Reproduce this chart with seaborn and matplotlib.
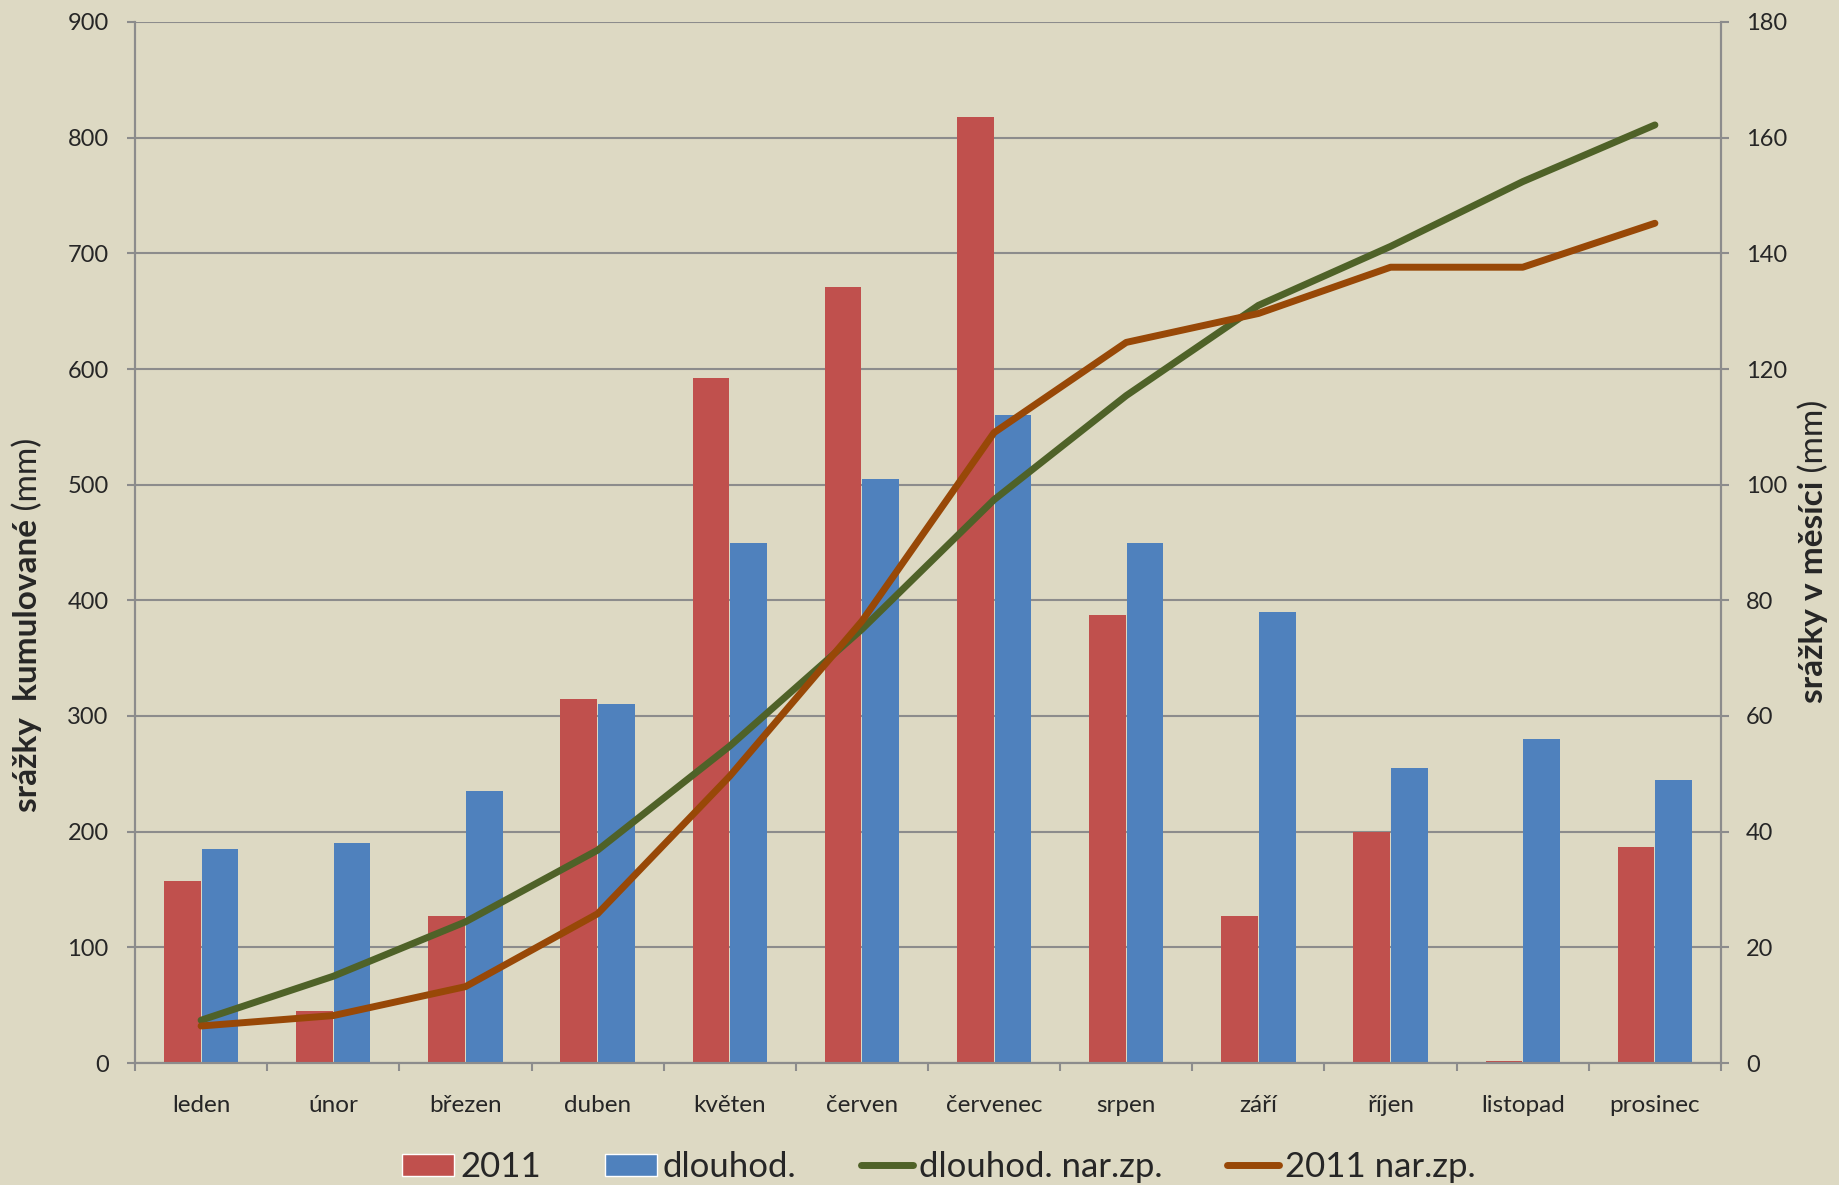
import numpy as np
import pandas as pd
import seaborn as sns
import matplotlib.pyplot as plt
from matplotlib.patches import Patch
from matplotlib.lines import Line2D

# měsíce
mesice = ['leden', 'únor', 'březen', 'duben', 'květen', 'červen',
          'červenec', 'srpen', 'září', 'říjen', 'listopad', 'prosinec']

# měsíční srážky (mm) - pravá osa
srazky_2011 = [31.4, 9, 25.4, 63, 118.4, 134.2, 163.6, 77.4, 25.4, 40, 0.4, 37.4]
srazky_dlouhod = [37, 38, 47, 62, 90, 101, 112, 90, 78, 51, 56, 49]

# kumulované srážky (mm) - levá osa
kum_dlouhod = [37, 75, 122, 184, 274, 375, 487, 577, 655, 706, 762, 811]
kum_2011 = [32, 41, 66, 129, 248, 382, 545, 623, 648, 688, 688, 726]

BG = '#DDD9C3'
GRID = '#8C8C8C'
C_2011 = '#C0504D'
C_DL = '#4F81BD'
C_DL_KUM = '#4F6228'
C_2011_KUM = '#984807'


def main():
    sns.set_style('white')
    plt.rcParams['font.family'] = ['Lato', 'DejaVu Sans']

    fig = plt.figure(figsize=(18.39, 11.85), dpi=100, facecolor=BG)
    ax = fig.add_axes([135 / 1839, 1 - 1063 / 1185, (1721 - 135) / 1839, (1063 - 22) / 1185])
    ax2 = ax.twinx()

    # sloupce (měsíční hodnoty) na pravé ose
    df = pd.DataFrame({
        'mesic': mesice * 2,
        'rada': ['2011'] * 12 + ['dlouhod.'] * 12,
        'mm': srazky_2011 + srazky_dlouhod,
    })
    sns.barplot(data=df, x='mesic', y='mm', hue='rada', order=mesice,
                hue_order=['2011', 'dlouhod.'], palette=[C_2011, C_DL],
                width=0.57, gap=0.03, linewidth=0, saturation=1,
                legend=False, ax=ax2)

    # čáry (kumulované) na levé ose
    idx = np.arange(len(mesice))
    sns.lineplot(x=idx, y=kum_dlouhod, color=C_DL_KUM, linewidth=5,
                 solid_capstyle='round', ax=ax)
    sns.lineplot(x=idx, y=kum_2011, color=C_2011_KUM, linewidth=5,
                 solid_capstyle='round', ax=ax)

    ax.set_zorder(2)
    ax.patch.set_visible(False)
    ax2.patch.set_visible(False)

    ax.set_xlim(-0.5, 11.5)
    ax.set_ylim(0, 900)
    ax2.set_ylim(0, 180)
    ax.set_yticks(np.arange(0, 901, 100))
    ax2.set_yticks(np.arange(0, 181, 20))

    ax2.grid(axis='y', color=GRID, linewidth=1.5)
    ax2.set_axisbelow(True)
    ax.grid(False)

    for a in (ax, ax2):
        for s in a.spines.values():
            s.set_color(GRID)
            s.set_linewidth(1.5)
        a.spines['top'].set_visible(False)
        a.set_xlabel('')
        a.set_ylabel('')

    ax.tick_params(axis='y', direction='out', length=6, width=1.5, color=GRID,
                   labelsize=17, pad=13, left=True)
    ax2.tick_params(axis='y', direction='out', length=6, width=1.5, color=GRID,
                    labelsize=17, pad=12, right=True)

    ax.set_xticks(idx)
    ax.set_xticklabels(mesice)
    ax.set_xticks(np.arange(-0.5, 12, 1), minor=True)
    ax.tick_params(axis='x', which='major', length=0, labelsize=17.5, pad=23)
    ax.tick_params(axis='x', which='minor', direction='out', length=6,
                   width=1.5, color=GRID, bottom=True)
    ax2.tick_params(axis='x', which='both', length=0, labelbottom=False)

    # popisky os
    t1 = fig.text(28 / 1839, 1 - 812 / 1185, 'srážky  kumulované', rotation=90,
                  ha='center', va='bottom', fontsize=24, fontweight='bold')
    fig.canvas.draw()
    ax.annotate(' (mm)', xy=(0.5, 1), xycoords=t1, rotation=90,
                ha='center', va='bottom', fontsize=24)
    t2 = fig.text(1814 / 1839, 1 - 703 / 1185, 'srážky v měsíci', rotation=90,
                  ha='center', va='bottom', fontsize=24, fontweight='bold')
    ax.annotate(' (mm)', xy=(0.5, 1), xycoords=t2, rotation=90,
                ha='center', va='bottom', fontsize=24)

    # legenda
    handles = [
        Patch(facecolor=C_2011, label='2011'),
        Patch(facecolor=C_DL, label='dlouhod.'),
        Line2D([], [], color=C_DL_KUM, linewidth=5, solid_capstyle='round',
               label='dlouhod. nar.zp.'),
        Line2D([], [], color=C_2011_KUM, linewidth=5, solid_capstyle='round',
               label='2011 nar.zp.'),
    ]
    fig.legend(handles=handles, loc='center left', bbox_to_anchor=(402 / 1839, 1 - 1167 / 1185),
               ncol=4, frameon=False, fontsize=25, handlelength=1.5,
               handleheight=0.58, handletextpad=0.17, columnspacing=1.85,
               borderaxespad=0, borderpad=0)

    fig.savefig('out.png', dpi=100, facecolor=BG)
    plt.close(fig)


if __name__ == '__main__':
    main()
